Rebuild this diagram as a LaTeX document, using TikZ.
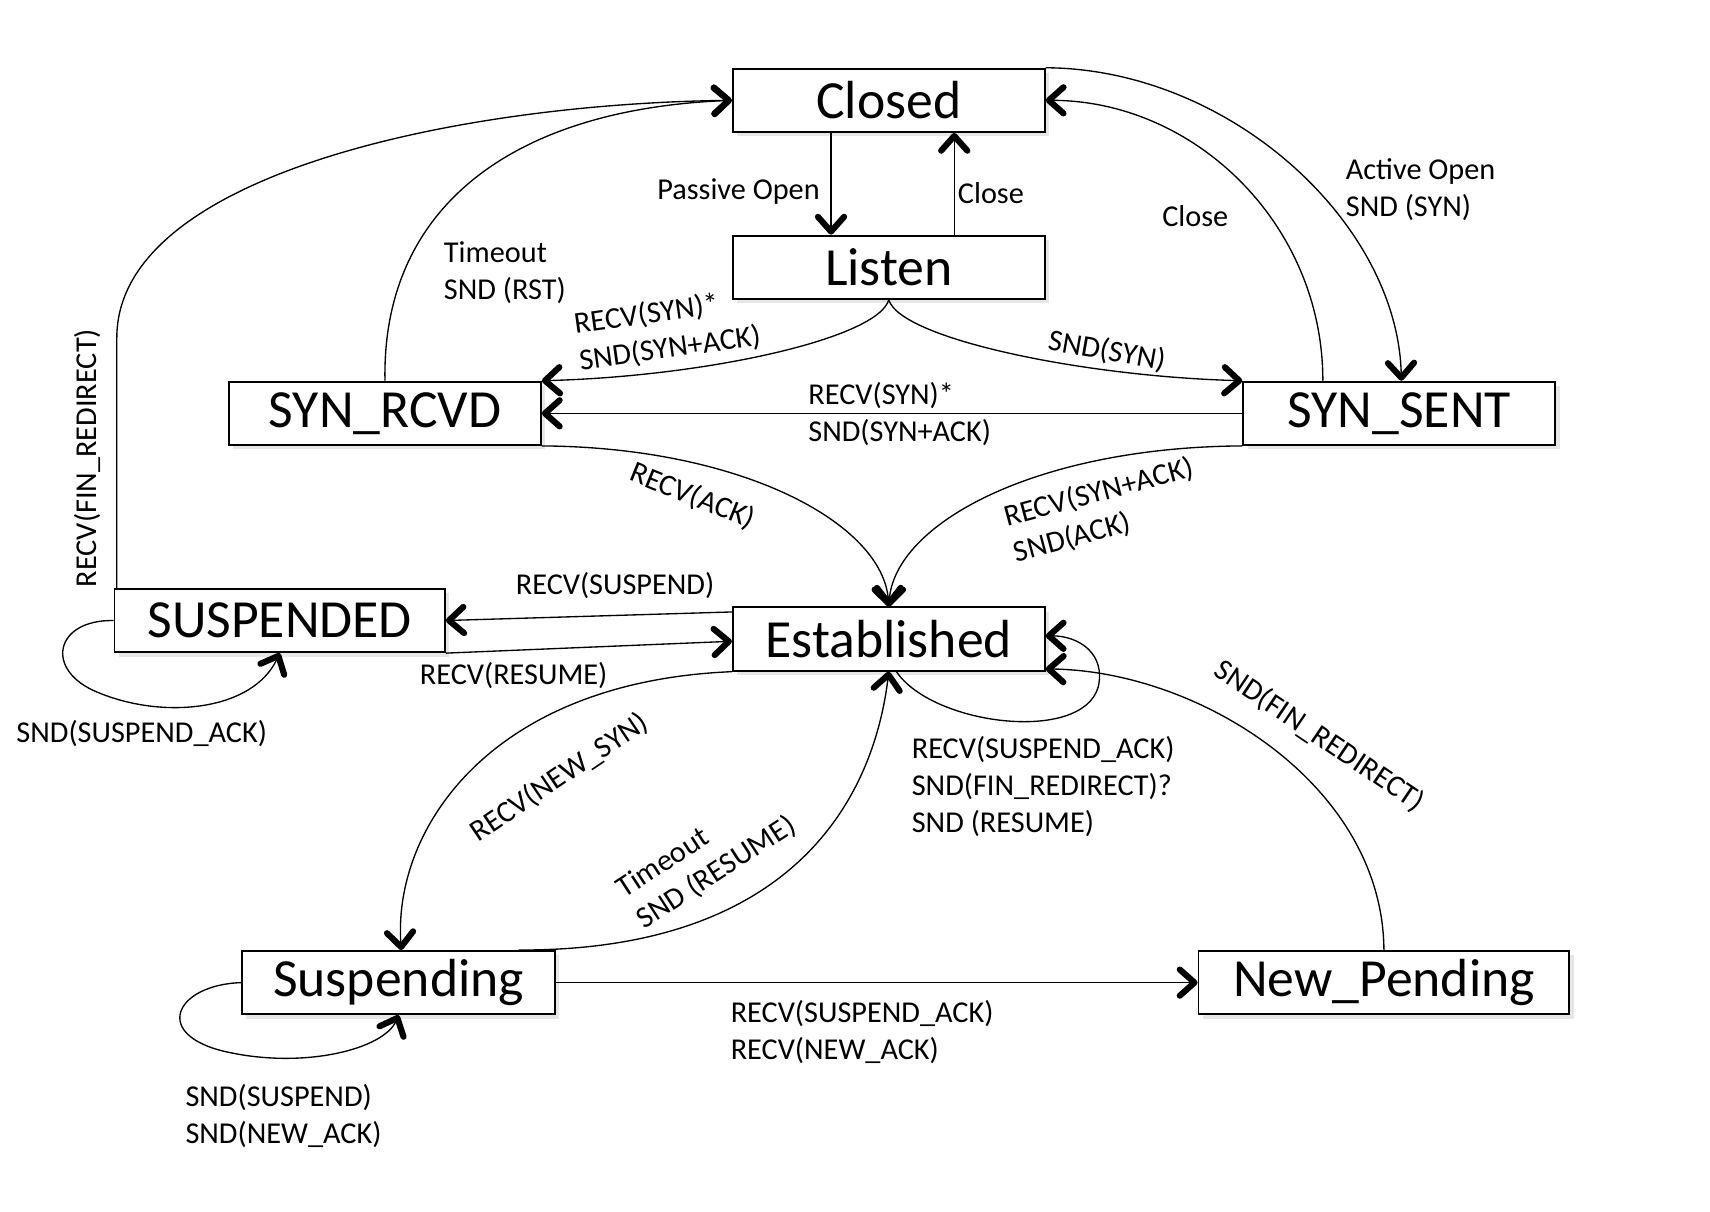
\documentclass[tikz,border=0pt]{standalone}
\usepackage{fontspec}
\setmainfont{Carlito}
\usetikzlibrary{arrows.meta,shadows}

\tikzset{
    statebox/.style={draw, line width=1pt, fill=white, inner sep=0pt,
        minimum width=57.2mm, minimum height=11.6mm,
        font=\fontsize{28}{32}\selectfont,
        drop shadow={opacity=0.2, shadow xshift=0.8mm, shadow yshift=-0.8mm}},
    tip/.tip={Straight Barb[length=2.7mm, width=4.8mm, line width=3.2pt, round]},
    trans/.style={line width=0.7pt, -tip},
    lbl/.style={font=\fontsize{15.8}{19.3}\selectfont, align=left, inner sep=1pt},
}

\begin{document}
\begin{tikzpicture}[x=0.2mm, y=-0.2mm]
    \useasboundingbox (0,0) rectangle (1568,1111);

    % States
    \node[statebox] (closed) at (815,92) {Closed};
    \node[statebox] (listen) at (815,245) {Listen};
    \node[statebox] (synrcvd) at (353,379) {SYN\_RCVD};
    \node[statebox] (synsent) at (1283,379) {SYN\_SENT};
    \node[statebox, minimum width=60.6mm] (suspended) at (256.5,569) {SUSPENDED};
    \node[statebox] (established) at (815,586) {Established};
    \node[statebox, minimum width=57.4mm] (suspending) at (365.5,901) {Suspending};
    \node[statebox, minimum width=68mm] (newpending) at (1269,901) {New\_Pending};

    % Closed / Listen
    \draw[trans] ([xshift=-10.6mm]closed.south) -- ([xshift=-10.6mm]listen.north)
        node[lbl, anchor=east, pos=0.58, xshift=-1.6mm] (lpassive) {Passive Open};
    \draw[trans] ([xshift=12mm]listen.north) -- ([xshift=12mm]closed.south)
        node[lbl, anchor=west, pos=0.41, xshift=0.2mm] (lclose) {Close};

    % Listen to SYN_RCVD and SYN_SENT
    \draw[trans] (listen.south) .. controls (805,310) and (650,345) .. (synrcvd.north east);
    \node[lbl, rotate=8] (lsynrcvd) at (612,303) {RECV(SYN)*\\SND(SYN+ACK)};
    \draw[trans] (listen.south) .. controls (825,310) and (990,345) .. (synsent.north west);
    \node[lbl, rotate=-10] (lsndsyn) at (1015,322) {SND(SYN)};
    \draw[trans] (synsent.west) -- (synrcvd.east);
    \node[lbl] (lsimopen) at (825,380) {RECV(SYN)*\\SND(SYN+ACK)};

    % back to Closed
    \draw[trans] ([xshift=-14mm]synsent.north) .. controls (1213,205) and (1095,92) .. (closed.east);
    \node[lbl] (lclose2) at (1096,198) {Close};
    \draw[trans] (closed.north east) .. controls (1128,63) and (1282,205) .. ([xshift=0.4mm]synsent.north);
    \node[lbl, anchor=west] (lactive) at (1232,174) {Active Open\\SND (SYN)};
    \draw[trans] (synrcvd.north) .. controls (350,190) and (470,100) .. (closed.west);
    \node[lbl, anchor=west] (ltimeout) at (405,250) {Timeout\\SND (RST)};
    \draw[trans] ([xshift=0.6mm]suspended.north west) -- ++(0,-230)
        .. controls (108,160) and (420,95) .. (closed.west);
    \node[lbl, rotate=90] (lfinred) at (80,420) {RECV(FIN\_REDIRECT)};

    % to Established
    \draw[trans] (synrcvd.south east) .. controls (680,410) and (810,480) .. (established.north);
    \node[lbl, rotate=-22] (lack) at (635,455) {RECV(ACK)};
    \draw[trans] (synsent.south west) .. controls (950,410) and (820,480) .. (established.north);
    \node[lbl, rotate=15] (lsynack) at (1012,468) {RECV(SYN+ACK)\\SND(ACK)};

    % Established / SUSPENDED
    \draw[trans] ([yshift=-1mm]established.north west) -- (suspended.east);
    \node[lbl] (lsuspend) at (564,537) {RECV(SUSPEND)};
    \draw[trans] (suspended.south east) -- ([yshift=-0.4mm]established.west);
    \node[lbl] (lresume) at (471,619) {RECV(RESUME)};
    \draw[trans] (suspended.west) .. controls (50,568) and (40,615) .. (90,635)
        .. controls (150,660) and (232,652) .. (suspended.south);
    \node[lbl] (lsuspack) at (130,673) {SND(SUSPEND\_ACK)};

    % Established / Suspending
    \draw[trans] (established.south west) .. controls (450,625) and (360,760) .. ([xshift=0.5mm]suspending.north);
    \node[lbl, rotate=34] (lnewsyn) at (513,713) {RECV(NEW\_SYN)};
    \draw[trans] ([xshift=22mm]suspending.north) .. controls (720,872) and (800,740) .. (established.south);
    \node[lbl, rotate=33] (lresume2) at (648,786) {Timeout\\SND (RESUME)};
    \draw[trans] ([xshift=1.4mm]established.south) .. controls (855,665) and (992,682) .. (1007,630)
        .. controls (1014,600) and (990,583) .. ([yshift=0.6mm]established.east);
    \node[lbl, anchor=west] (lestloop) at (834,721) {RECV(SUSPEND\_ACK)\\SND(FIN\_REDIRECT)?\\SND (RESUME)};

    % New_Pending
    \draw[trans] (suspending.east) -- (newpending.west);
    \node[lbl, anchor=west] (lnewack) at (668,946) {RECV(SUSPEND\_ACK)\\RECV(NEW\_ACK)};
    \draw[trans] (newpending.north) .. controls (1268,720) and (1100,615) .. ([yshift=0.5mm]established.south east);
    \node[lbl, rotate=-34] (lfinred2) at (1210,675) {SND(FIN\_REDIRECT)};
    \draw[trans] (suspending.west) .. controls (160,903) and (138,950) .. (210,965)
        .. controls (280,980) and (352,962) .. (suspending.south);
    \node[lbl, anchor=west] (lsusploop) at (168,1023) {SND(SUSPEND)\\SND(NEW\_ACK)};
\end{tikzpicture}
\end{document}
